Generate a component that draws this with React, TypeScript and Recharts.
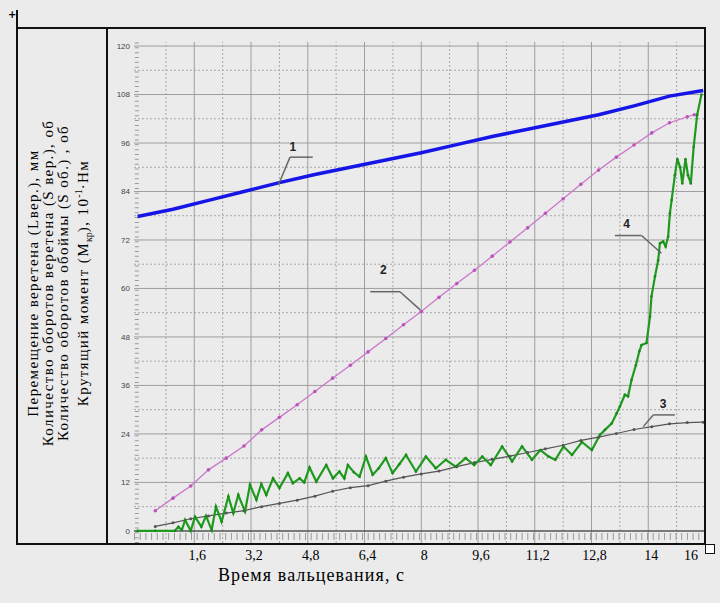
import React from 'react';
import { ComposedChart, XAxis, YAxis, Line, ReferenceLine, ReferenceDot } from 'recharts';

// 1 - перемещение веретена
const spindleT = [0, 1, 2, 3, 4, 5, 6, 7, 8, 9, 10, 11, 12, 13, 14, 15, 15.95];
const spindleV = [77.8, 79.6, 81.8, 84.0, 86.2, 88.2, 90.0, 91.8, 93.6, 95.6, 97.6, 99.4, 101.2, 103.0, 105.2, 107.6, 109.0];

// 2 - обороты веретена
const turnsT = [0.5, 1, 1.5, 2, 2.5, 3, 3.5, 4, 4.5, 5, 5.5, 6, 6.5, 7, 7.5, 8, 8.5, 9, 9.5, 10, 10.5, 11, 11.5, 12, 12.5, 13, 13.5, 14, 14.5, 15, 15.5, 15.7];
const turnsV = [5.0, 8.1, 11.1, 15.1, 18.0, 21.0, 25.0, 28.1, 31.2, 34.5, 37.8, 41.0, 44.3, 47.6, 51.0, 54.3, 57.8, 61.2, 64.5, 68.0, 71.5, 75.0, 78.6, 82.2, 85.8, 89.3, 92.5, 95.5, 98.5, 101.0, 102.5, 103.0];

// 3 - обороты обоймы
const cageT = [0.5, 1, 1.5, 2, 2.5, 3, 3.5, 4, 4.5, 5, 5.5, 6, 6.5, 7, 7.5, 8, 8.5, 9, 9.5, 10, 10.5, 11, 11.5, 12, 12.5, 13, 13.5, 14, 14.5, 15, 15.5, 15.95];
const cageV = [1.1, 2.0, 3.0, 3.7, 4.4, 5.0, 6.0, 6.8, 7.6, 8.6, 9.8, 10.7, 11.2, 12.3, 13.3, 14.1, 14.8, 15.9, 16.9, 17.7, 18.5, 19.4, 20.3, 21.2, 22.4, 23.2, 24.1, 25.1, 25.8, 26.5, 26.8, 26.9];

// 4 - крутящий момент
const torqueT = [0, 0.5, 1.05, 1.15, 1.25, 1.34, 1.5, 1.62, 1.8, 1.93, 2.09, 2.21, 2.37, 2.56, 2.7, 2.84, 3.03, 3.17, 3.35, 3.49, 3.63, 3.82, 4.0, 4.24, 4.38, 4.57, 4.7, 4.85, 5.04, 5.32, 5.51, 5.69, 5.83, 5.93, 6.1, 6.26, 6.44, 6.63, 6.8, 7.0, 7.19, 7.38, 7.57, 7.85, 8.13, 8.41, 8.69, 8.97, 9.25, 9.49, 9.72, 9.96, 10.28, 10.56, 10.84, 11.12, 11.36, 11.59, 11.78, 12.01, 12.25, 12.53, 12.81, 13.04, 13.18, 13.37, 13.51, 13.6, 13.74, 13.83, 13.93, 14.05, 14.15, 14.21, 14.35, 14.45, 14.49, 14.59, 14.68, 14.73, 14.82, 14.89, 14.96, 15.01, 15.06, 15.15, 15.22, 15.3, 15.36, 15.45, 15.52, 15.6, 15.68, 15.78, 15.9];
const torqueV = [0, 0, 0, 1.0, 0.2, 2.7, 0, 3.5, 1.0, 3.7, 0.2, 6.0, 2.3, 8.5, 4.4, 8.9, 4.8, 11.4, 7.7, 11.6, 8.9, 13.0, 10.6, 14.3, 11.8, 13.0, 12.0, 15.7, 12.2, 16.3, 13.0, 14.7, 13.0, 16.3, 14.5, 13.4, 18.4, 13.9, 15.5, 18.0, 14.3, 16.5, 18.8, 14.7, 18.4, 15.5, 17.6, 15.9, 18.0, 16.3, 18.4, 16.3, 20.9, 17.2, 20.9, 17.6, 20.0, 18.4, 17.6, 20.9, 18.8, 22.0, 20.0, 23.8, 25.0, 26.6, 29.1, 30.8, 33.7, 33.3, 37.4, 41.0, 44.5, 46.0, 46.5, 53.0, 58.0, 63.0, 67.0, 71.2, 71.6, 70.4, 72.8, 78.6, 81.9, 88.0, 92.0, 90.0, 86.0, 92.0, 88.0, 86.0, 95.0, 103.0, 108.0];

const yTicks = [0, 12, 24, 36, 48, 60, 72, 84, 96, 108, 120];
const yMinor = [6, 18, 30, 42, 54, 66, 78, 90, 102, 114];
const xTicks = [1.6, 3.2, 4.8, 6.4, 8, 9.6, 11.2, 12.8, 14.4, 16];
const xTickLabels = ['1,6', '3,2', '4,8', '6,4', '8', '9,6', '11,2', '12,8', '14', '16'];
const xMajor = [1.6, 3.2, 4.8, 6.4, 8, 9.6, 11.2, 12.8, 14.4];
const xMinor = [0.8, 2.4, 4, 5.6, 7.2, 8.8, 10.4, 12, 13.6, 15.2];

const toPoints = (ts: number[], vs: number[]) => ts.map((t, i) => ({ t, v: vs[i] }));

const spindle = toPoints(spindleT, spindleV);
const turns = toPoints(turnsT, turnsV);
const cage = toPoints(cageT, cageV);
const torque = toPoints(torqueT, torqueV);

// leader lines of the curve numbers
const callouts = [
  { label: '1', at: { x: 4.38, y: 95.1 }, path: [{ x: 3.97, y: 85.6 }, { x: 4.3, y: 92.5 }, { x: 4.94, y: 92.5 }] },
  { label: '2', at: { x: 6.93, y: 64.7 }, path: [{ x: 6.56, y: 59.2 }, { x: 7.4, y: 59.2 }, { x: 7.97, y: 54.7 }] },
  { label: '3', at: { x: 14.82, y: 31.4 }, path: [{ x: 14.26, y: 25.8 }, { x: 14.54, y: 28.7 }, { x: 15.15, y: 28.7 }] },
  { label: '4', at: { x: 13.79, y: 75.9 }, path: [{ x: 13.46, y: 73.1 }, { x: 14.21, y: 73.1 }, { x: 14.77, y: 68.7 }] },
];

const XTick = ({ x, y, payload }: any) => {
  const i = xTicks.indexOf(payload.value);
  const dx = payload.value === 16 ? -14 : 3;
  return (
    <text x={x + dx} y={y + 17} textAnchor="middle" fontSize={14} fill="#000" fontFamily="'Liberation Serif', serif">
      {xTickLabels[i]}
    </text>
  );
};

const line = (extra: React.CSSProperties) => ({ position: 'absolute' as const, background: '#111', ...extra });

export default function App() {
  return (
    <div style={{ position: 'absolute', left: 0, top: 0, width: 720, height: 603, background: '#ebebeb', overflow: 'hidden' }}>
      <ComposedChart width={720} height={603} margin={{ top: 42, right: 15, bottom: 0, left: 0 }}>
        <XAxis dataKey="t" type="number" domain={[-0.1, 16]} ticks={xTicks} interval={0} allowDataOverflow
          axisLine={false} tickLine={false} tickSize={0} tickMargin={0} height={60} tick={<XTick />} />
        <YAxis type="number" domain={[-3, 121]} ticks={yTicks} interval={0} allowDataOverflow width={134}
          axisLine={false} tickLine={false} tickSize={0} tickMargin={4}
          tick={{ fontSize: 8, fill: '#444', fontFamily: "'Liberation Sans', sans-serif" }} />

        {yMinor.map(v => <ReferenceLine key={'ym' + v} y={v} stroke="#a8a8a8" strokeDasharray="2 2" />)}
        {xMinor.map(v => <ReferenceLine key={'xm' + v} x={v} stroke="#a8a8a8" strokeDasharray="2 2" />)}
        {yTicks.filter(v => v > 0).map(v => <ReferenceLine key={'yM' + v} y={v} stroke="#9e9e9e" />)}
        {xMajor.map(v => <ReferenceLine key={'xM' + v} x={v} stroke="#9e9e9e" />)}
        <ReferenceLine y={0} stroke="#555" strokeWidth={1.5} />
        <ReferenceLine y={-1.4} stroke="#9a9a9a" strokeWidth={7} strokeDasharray="1 4.7" />
        <ReferenceLine x={-0.02} stroke="#9a9a9a" strokeWidth={4} strokeDasharray="1 3.85" />

        <Line data={cage} dataKey="v" stroke="#555" strokeWidth={1.2} isAnimationActive={false}
          dot={{ r: 1.5, fill: '#555', stroke: 'none' }} />
        <Line data={turns} dataKey="v" stroke="#cc77cc" strokeWidth={1.3} isAnimationActive={false}
          dot={{ r: 1.8, fill: '#bb55bb', stroke: 'none' }} />
        <Line data={torque} dataKey="v" stroke="#1f9a1f" strokeWidth={2.2} isAnimationActive={false}
          dot={{ r: 1.3, fill: '#1a8a1a', stroke: 'none' }} />
        <Line data={spindle} dataKey="v" stroke="#1515e8" strokeWidth={3.5} isAnimationActive={false} dot={false} />

        {callouts.map(c => [
          <ReferenceLine key={c.label + 'a'} segment={[c.path[0], c.path[1]]} stroke="#666" strokeWidth={1.5} ifOverflow="visible" />,
          <ReferenceLine key={c.label + 'b'} segment={[c.path[1], c.path[2]]} stroke="#666" strokeWidth={1.5} ifOverflow="visible" />,
          <ReferenceDot key={c.label + 'c'} x={c.at.x} y={c.at.y} r={0} fill="none" stroke="none"
            label={{ value: c.label, position: 'center', fontSize: 12, fontWeight: 'bold', fill: '#222', fontFamily: "'Liberation Sans', sans-serif" }} />,
        ])}
      </ComposedChart>

      {/* frame */}
      <div style={line({ left: 17, top: 27, width: 689, height: 2 })} />
      <div style={line({ left: 17, top: 543, width: 689, height: 2 })} />
      <div style={line({ left: 16, top: 10, width: 2, height: 535 })} />
      <div style={line({ left: 106, top: 27, width: 2, height: 518 })} />
      <div style={line({ left: 704, top: 27, width: 2, height: 518 })} />
      <div style={{ position: 'absolute', left: 8, top: 10, width: 8, height: 8, fontSize: 10, fontWeight: 'bold', lineHeight: '10px', fontFamily: "'DejaVu Sans', sans-serif" }}>+</div>
      <div style={{ position: 'absolute', left: 705, top: 544, width: 8, height: 8, border: '1px solid #111', background: '#fff' }} />

      {/* left axis title */}
      <div style={{
        position: 'absolute', left: 61, top: 283, width: 420, transform: 'translate(-50%, -50%) rotate(-90deg)',
        textAlign: 'center', fontFamily: "'Liberation Serif', serif", fontSize: 15, lineHeight: '15px', letterSpacing: '1.4px',
        color: '#000', whiteSpace: 'nowrap',
      }}>
        <div>Перемещение веретена (Lвер.), мм</div>
        <div>Количество оборотов веретена (S вер.), об</div>
        <div>Количество оборотов обоймы (S об.) , об</div>
        <div>Крутящий момент (M<sub style={{ fontSize: 10, letterSpacing: 0 }}>кр</sub>), 10<sup style={{ fontSize: 10, letterSpacing: 0 }}>-1</sup>·Нм</div>
      </div>

      {/* bottom axis title */}
      <div style={{ position: 'absolute', left: 218, top: 565, fontFamily: "'Liberation Serif', serif", fontSize: 18, letterSpacing: '1.1px', color: '#000', whiteSpace: 'nowrap' }}>
        Время вальцевания, с
      </div>
    </div>
  );
}
